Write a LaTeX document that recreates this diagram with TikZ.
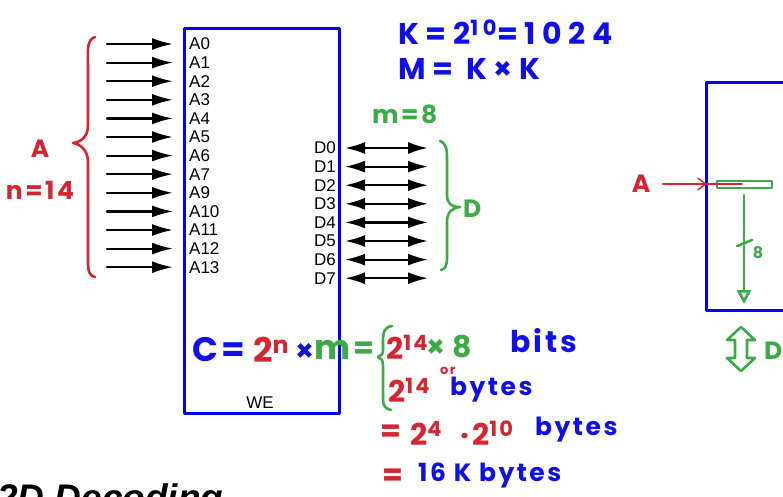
\documentclass[tikz,border=0pt]{standalone}
\usepackage{fontspec}
\setmainfont{Liberation Sans}
\newfontfamily\handfont{Poppins}[LetterSpace=10]
\newfontfamily\widehandfont{Poppins}[LetterSpace=22]
\usetikzlibrary{arrows.meta,positioning}
\definecolor{memBox}{HTML}{0000F5}
\definecolor{memBlue}{HTML}{1010E6}
\definecolor{memRed}{HTML}{D42630}
\definecolor{memGreen}{HTML}{3DAA48}
\definecolor{memInk}{HTML}{000000}
\tikzset{
  mem diagram/.style={x=1pt, y=-1pt, line cap=round, line join=round},
  mem chip/.style={draw=memBox, line width=3pt, inner sep=0pt},
  mem pin/.style={font=\fontsize{17}{17}\selectfont, text=memInk, inner sep=0pt},
  mem arrow/.style={-{Latex[length=21pt,width=12pt]}, draw=memInk, line width=2.2pt},
  mem bus/.style={{Latex[length=20pt,width=12pt]}-{Latex[length=20pt,width=12pt]},
    draw=memInk, line width=2.2pt},
  mem hand/.style={font=\handfont\bfseries\fontsize{30}{30}\selectfont,
    inner sep=0pt, anchor=west},
  mem small hand/.style={mem hand, font=\handfont\bfseries\fontsize{25}{25}\selectfont},
  mem big hand/.style={mem hand, font=\handfont\bfseries\fontsize{34}{34}\selectfont},
  mem wide hand/.style={mem hand, font=\widehandfont\bfseries\fontsize{30}{30}\selectfont},
  mem stroke/.style={line width=2.6pt}
}
\begin{document}
\begin{tikzpicture}[mem diagram]
\useasboundingbox (0,0) rectangle (783,496);
\clip (0,0) rectangle (783,496);
% memory chip
\node[mem chip, minimum width=155pt, minimum height=385pt] (chip) at (262,220.5) {};
\node[mem pin] (we) at (260,403) {WE};
\foreach \lbl [count=\i from 0] in {A0,A1,A2,A3,A4,A5,A6,A7,A9,A10,A11,A12,A13}{
  \node[mem pin, anchor=west] (apin\i) at (189,{44+18.6*\i}) {\lbl};
  \coordinate (asrc\i) at (107,{44+18.6*\i});
  \draw[mem arrow, shorten >=16pt] (asrc\i) -- (apin\i.west);
}
\foreach \i in {0,...,7}{
  \node[mem pin, anchor=east] (dpin\i) at (336,{148+18.6*\i}) {D\i};
  \coordinate (dout\i) at (428,{148+18.6*\i});
  \draw[mem bus, shorten <=9pt] (dpin\i.east) -- (dout\i);
}
% address brace
\draw[mem stroke, draw=memRed] (95,37) .. controls (86,40) and (88,52) .. (88,70)
  -- (88,125) .. controls (88,138) and (80,142) .. (73,143)
  .. controls (80,144) and (88,150) .. (88,162) -- (88,262)
  .. controls (88,272) and (90,276) .. (95,277);
\node[mem small hand, anchor=center, text=memRed] (abus) at (40,149) {A};
\node[mem small hand, anchor=center, text=memRed] (nwidth) at (40,190) {n=14};
% data brace
\draw[mem stroke, draw=memGreen] (440,141) .. controls (447,144) and (447,150) .. (447,160)
  -- (447,195) .. controls (447,204) and (452,207) .. (460,207)
  .. controls (452,208) and (447,212) .. (447,222) -- (447,258)
  .. controls (447,266) and (445,269) .. (441,270);
\node[mem small hand, text=memGreen] (dbus) at (463,209) {D};
\node[mem small hand, text=memGreen] (wordlen) at (372,114) {m=8};
% sizes
\node[mem wide hand, text=memBlue] (kdef) at (398,32) {K=2\textsuperscript{10}=1024};
\node[mem wide hand, text=memBlue] (mdef) at (398,69) {M= K×K};
% capacity
\node[mem big hand, text=memBlue] (capc) at (192,350) {C=};
\node[mem big hand, text=memRed] (capn) at (253,350) {2\textsuperscript{n}};
\node[mem hand, text=memBlue] (captimes) at (295,352) {×};
\node[mem big hand, text=memGreen] (capm) at (314,350) {m};
\node[mem hand, text=memGreen] (capeq) at (353,350) {=};
\draw[mem stroke, draw=memGreen] (392,326) .. controls (384,327) and (383,333) .. (383,340)
  -- (383,350) .. controls (383,354) and (381,356) .. (378,357)
  .. controls (381,358) and (383,360) .. (383,366) -- (383,400)
  .. controls (383,406) and (386,409) .. (391,410);
\node[mem hand, text=memRed] (bitsexp) at (386,347) {2\textsuperscript{14}};
\node[mem hand, text=memGreen] (bitstimes) at (426,348) {×};
\node[mem hand, text=memGreen] (bitsfac) at (452,347) {8};
\node[mem hand, text=memBlue] (bitsunit) at (510,341) {bits};
\node[mem hand, text=memRed, font=\handfont\bfseries\fontsize{13}{13}\selectfont] (orword) at (440,371) {or};
\node[mem hand, text=memRed] (bytesexp) at (388,390) {2\textsuperscript{14}};
\node[mem small hand, text=memBlue] (bytesunit) at (450,390) {bytes};
\node[mem hand, text=memRed] (poweq) at (380,433) {=};
\node[mem hand, text=memRed] (powfour) at (410,433) {2\textsuperscript{4}};
\node[mem hand, text=memRed] (powten) at (460,433) {·2\textsuperscript{10}};
\node[mem small hand, text=memBlue] (powunit) at (535,430) {bytes};
\node[mem hand, text=memRed] (keq) at (382,477) {=};
\node[mem small hand, text=memBlue] (kunit) at (418,475) {16 K bytes};
% second chip
\draw[mem chip] (800,82) -- (706,82) -- (706,310) -- (800,310);
\node[draw=memGreen, line width=1.2pt, minimum width=55pt, minimum height=7pt, inner sep=0pt] (row) at (744.5,184.5) {};
\node[mem small hand, anchor=center, text=memRed] (arow) at (641,184) {A};
\coordinate (rowstart) at (663,184);
\coordinate (rowin) at (707,184);
\coordinate (rowend) at (742,184);
\draw[draw=memRed, line width=1.5pt] (rowstart) -- (rowend);
\draw[draw=memRed, line width=1.5pt, -{Straight Barb[length=8pt,width=12pt]}] (rowstart) -- (rowin);
\coordinate (rowtop) at (744,195);
\coordinate (rowout) at (744,304);
\draw[mem stroke, draw=memGreen, -{Triangle[length=14pt,width=14pt,open]}] (rowtop) -- (rowout);
\draw[mem stroke, draw=memGreen] (737,246) -- (752,240);
\node[mem hand, anchor=center, text=memGreen, font=\handfont\bfseries\fontsize{16}{16}\selectfont] (rowwidth) at (758,253) {8};
\draw[mem stroke, draw=memGreen] (741,327) -- (727,340) -- (735,340) -- (735,358) -- (727,358)
  -- (741,371) -- (755,358) -- (747,358) -- (747,340) -- (755,340) -- cycle;
\node[mem small hand, text=memGreen] (dport) at (764,351) {D};
% title cut by the page edge
\node[anchor=base west, inner sep=0pt, font=\bfseries\itshape\fontsize{37}{37}\selectfont] (title) at (-3,510) {2D Decoding};
\end{tikzpicture}
\end{document}
